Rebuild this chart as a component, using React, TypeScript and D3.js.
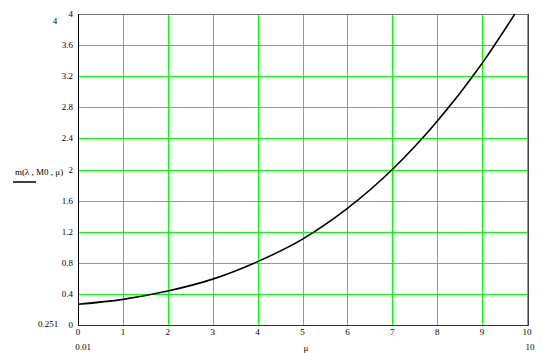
import React from "react";
import * as d3 from "d3";

const muValues = [0, 1, 2, 3, 4, 5, 6, 7, 8, 9, 9.73];
const mValues = [0.266, 0.33, 0.437, 0.59, 0.815, 1.105, 1.5, 2.0, 2.62, 3.365, 4.0];
const xTicks = [0, 1, 2, 3, 4, 5, 6, 7, 8, 9, 10];
const yTicks = [0, 0.4, 0.8, 1.2, 1.6, 2, 2.4, 2.8, 3.2, 3.6, 4];
const yTickLabels = ["0", "0.4", "0.8", "1.2", "1.6", "2", "2.4", "2.8", "3.2", "3.6", "4"];

const W = 550;
const H = 353;
const L = 78, R = 527, T = 14, B = 325;

export default function App() {
  const x = d3.scaleLinear().domain([0, 10]).range([L, R]);
  const y = d3.scaleLinear().domain([0, 4]).range([B, T]);
  const px = (v: number) => Math.round(x(v)) + 0.5;
  const py = (v: number) => Math.round(y(v)) + 0.5;
  const pts = muValues.map((m, i) => [m, mValues[i]] as [number, number]);
  const line = d3
    .line<[number, number]>()
    .x((d) => x(d[0]))
    .y((d) => y(d[1]))
    .curve(d3.curveMonotoneX);
  const font = "'Liberation Serif', 'DejaVu Serif', serif";
  return (
    <svg
      width={W}
      height={H}
      style={{ position: "absolute", left: 0, top: 0, background: "#fff" }}
      fontFamily={font}
    >
      <rect x={0} y={0} width={W} height={H} fill="#fff" />
      {/* grid */}
      <g>
        {xTicks.slice(1).map((t) => (
          <line key={"gx" + t} x1={px(t)} x2={px(t)} y1={T} y2={B} stroke="#00ff00" strokeWidth={1} />
        ))}
        {yTicks.slice(1, -1).map((t) => (
          <line key={"gy" + t} x1={L} x2={R} y1={py(t)} y2={py(t)} stroke="#00ff00" strokeWidth={1} />
        ))}
        <line x1={L} x2={R + 1} y1={T + 0.5} y2={T + 0.5} stroke="#777" strokeWidth={1} />
        <line x1={L + 0.5} x2={L + 0.5} y1={T} y2={B + 1} stroke="#000" strokeWidth={1} />
        <line x1={L} x2={R + 1} y1={B + 0.5} y2={B + 0.5} stroke="#333" strokeWidth={1} />
        <line x1={R + 1.5} x2={R + 1.5} y1={T} y2={B + 1} stroke="#444" strokeWidth={1} />
      </g>
      {/* curve */}
      <path d={line(pts) || ""} fill="none" stroke="#000" strokeWidth={1.6} />
      {/* y tick labels */}
      {yTicks.map((t, i) => (
        <text key={"ty" + t} x={L - 5} y={y(t) + 3} fontSize={9} textAnchor="end" fill="#000">
          {yTickLabels[i]}
        </text>
      ))}
      {/* x tick labels */}
      {xTicks.map((t) => (
        <text key={"tx" + t} x={x(t)} y={B + 10} fontSize={9} textAnchor="middle" fill="#000">
          {t}
        </text>
      ))}
      {/* limit labels */}
      <text x={55} y={24} fontSize={9} textAnchor="middle" fill="#000">4</text>
      <text x={48} y={327} fontSize={9} textAnchor="middle" fill="#000">0.251</text>
      <text x={83} y={350} fontSize={9} textAnchor="middle" fill="#000">0.01</text>
      <text x={530} y={350} fontSize={9} textAnchor="middle" fill="#000">10</text>
      <text x={306} y={351} fontSize={9} textAnchor="middle" fill="#000">μ</text>
      {/* y axis label */}
      <text x={15} y={175} fontSize={9} textAnchor="start" fill="#000">m(λ , M0 , μ)</text>
      <line x1={13} x2={36} y1={182} y2={182} stroke="#000" strokeWidth={1.5} />
    </svg>
  );
}
